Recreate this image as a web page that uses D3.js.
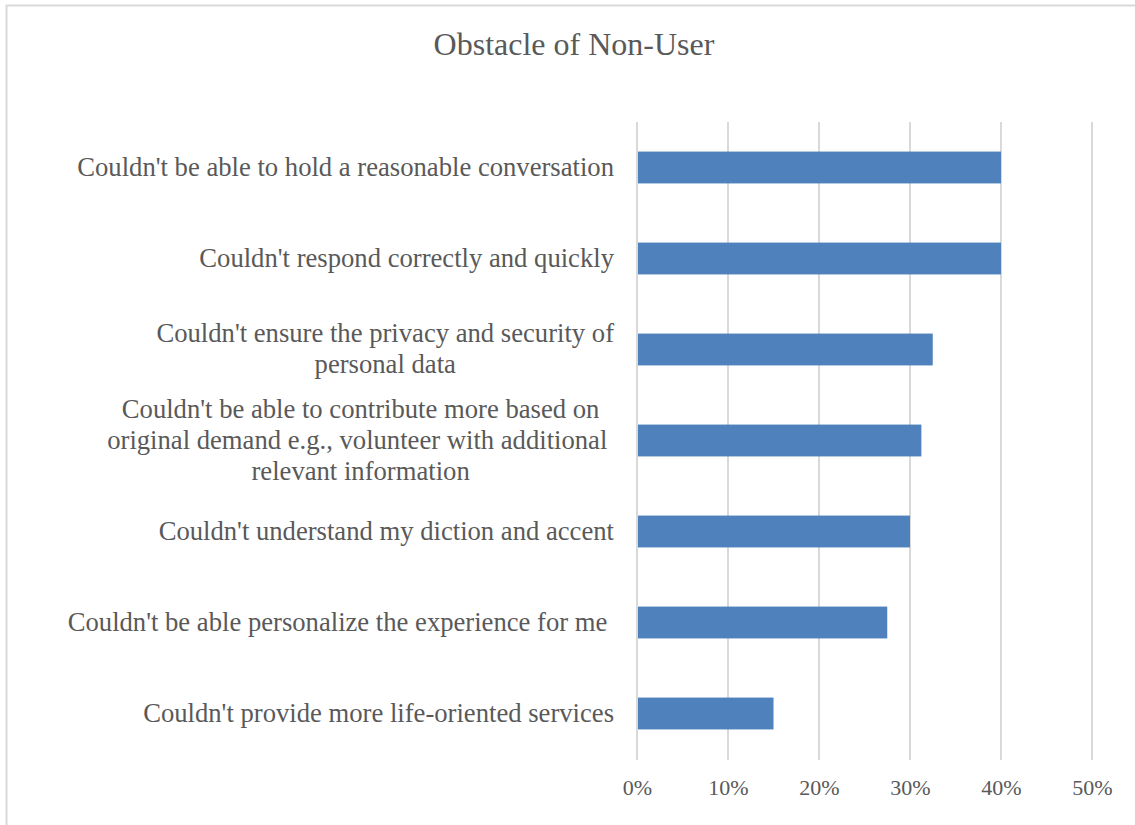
<!DOCTYPE html>
<html>
<head>
<meta charset="utf-8">
<script src="https://cdn.jsdelivr.net/npm/d3@7"></script>
<style>
  html, body { margin: 0; padding: 0; background: #fff; }
  svg { display: block; }
  text { font-family: "Liberation Serif", "Times New Roman", serif; fill: #595959; }
</style>
</head>
<body>
<svg id="chart" width="1135" height="825"></svg>
<script>
// Reasons given by non-users, top to bottom; "\n" marks a line break in the label
const categories = [
  "Couldn't be able to hold a reasonable conversation",
  "Couldn't respond correctly and quickly",
  "Couldn't ensure the privacy and security of\npersonal data",
  "Couldn't be able to contribute more based on\noriginal demand e.g., volunteer with additional \nrelevant information",
  "Couldn't understand my diction and accent",
  "Couldn't be able personalize the experience for me ",
  "Couldn't provide more life-oriented services"
];
// Share of respondents citing each obstacle
const shares = [0.40, 0.40, 0.325, 0.3125, 0.30, 0.275, 0.15];
const tickValues = [0, 0.1, 0.2, 0.3, 0.4, 0.5];
const chartTitle = "Obstacle of Non-User";

const svg = d3.select("#chart");

// chart-area frame
svg.append("rect")
  .attr("x", 6.5).attr("y", 5.5)
  .attr("width", 1200).attr("height", 900)
  .attr("fill", "none")
  .attr("stroke", "#d9d9d9")
  .attr("stroke-width", 2);

const plot = { left: 637, right: 1092, top: 122, bottom: 759 };

const x = d3.scaleLinear().domain([0, 0.5]).range([plot.left, plot.right]);
const y = d3.scaleBand().domain(categories).range([plot.top, plot.bottom])
  .paddingInner(0.65).paddingOuter(0.325);

// vertical gridlines
svg.append("g")
  .selectAll("line")
  .data(tickValues)
  .join("line")
  .attr("x1", d => x(d)).attr("x2", d => x(d))
  .attr("y1", plot.top).attr("y2", plot.bottom + 1)
  .attr("stroke", "#d9d9d9")
  .attr("stroke-width", 2);

// bars
svg.append("g")
  .selectAll("rect")
  .data(categories)
  .join("rect")
  .attr("x", x(0) + 1)
  .attr("y", d => y(d))
  .attr("width", (d, i) => x(shares[i]) - x(0) - 1)
  .attr("height", y.bandwidth())
  .attr("fill", "#4f81bd");

// x axis tick labels
const xAxis = d3.axisBottom(x)
  .tickValues(tickValues)
  .tickFormat(d3.format(".0%"))
  .tickSize(0)
  .tickPadding(0);
const gx = svg.append("g")
  .attr("transform", `translate(0,${plot.bottom})`)
  .call(xAxis);
gx.select(".domain").remove();
gx.selectAll("text")
  .attr("dy", null)
  .attr("y", 36)
  .style("font-family", '"Liberation Serif", "Times New Roman", serif')
  .style("font-size", "22px")
  .attr("fill", "#595959");

// category labels: each block right-aligned at the label edge, lines centred within the block
const labelRight = 614;
const lineHeight = 31;
const labels = svg.append("g")
  .style("font-size", "26.65px");

categories.forEach(cat => {
  const lines = cat.split("\n");
  const t = labels.append("text")
    .attr("text-anchor", "middle")
    .attr("xml:space", "preserve")
    .style("white-space", "pre");
  const cy = y(cat) + y.bandwidth() / 2;
  const firstBaseline = cy + 8 - (lines.length - 1) * lineHeight / 2;
  const spans = lines.map((ln, i) =>
    t.append("tspan").attr("y", firstBaseline + i * lineHeight).text(ln));
  const maxW = d3.max(spans, s => s.node().getComputedTextLength());
  spans.forEach(s => s.attr("x", labelRight - maxW / 2));
});

// title
svg.append("text")
  .attr("x", 574)
  .attr("y", 55)
  .attr("text-anchor", "middle")
  .style("font-size", "32px")
  .text(chartTitle);
</script>
</body>
</html>
